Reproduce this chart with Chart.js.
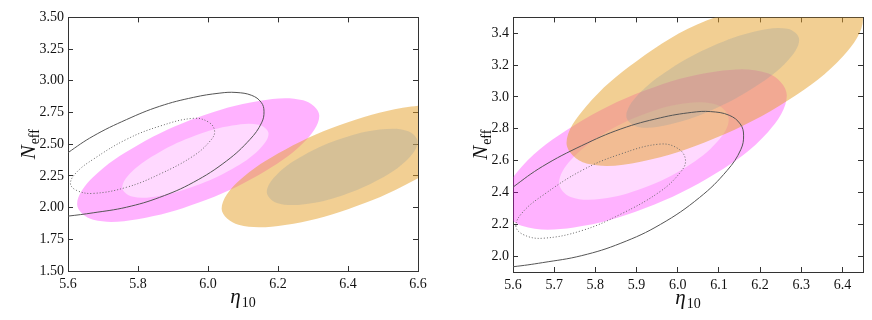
<!DOCTYPE html>
<html>
<head>
<meta charset="utf-8">
<script src="https://cdn.jsdelivr.net/npm/chart.js@4.4.1/dist/chart.umd.min.js"></script>
<style>
  html, body { margin: 0; padding: 0; background: #fff; }
  #wrap { position: relative; width: 872px; height: 320px; }
  #left { position: absolute; left: 0; top: 0; }
  #right { position: absolute; left: 440px; top: 0; }
</style>
</head>
<body>
<div id="wrap">
  <canvas id="left" width="440" height="320"></canvas>
  <canvas id="right" width="432" height="320"></canvas>
</div>
<script>
// --- ticks ---
const leftXTicks = [5.6, 5.8, 6.0, 6.2, 6.4, 6.6];
const leftXLabels = ['5.6', '5.8', '6.0', '6.2', '6.4', '6.6'];
const leftYTicks = [1.5, 1.75, 2.0, 2.25, 2.5, 2.75, 3.0, 3.25, 3.5];
const leftYLabels = ['1.50', '1.75', '2.00', '2.25', '2.50', '2.75', '3.00', '3.25', '3.50'];
const rightXTicks = [5.6, 5.7, 5.8, 5.9, 6.0, 6.1, 6.2, 6.3, 6.4];
const rightXLabels = ['5.6', '5.7', '5.8', '5.9', '6.0', '6.1', '6.2', '6.3', '6.4'];
const rightYTicks = [2.0, 2.2, 2.4, 2.6, 2.8, 3.0, 3.2, 3.4];
const rightYLabels = ['2.0', '2.2', '2.4', '2.6', '2.8', '3.0', '3.2', '3.4'];

// --- contours (eta10, Neff) ---
// black contours, same in both panels
const refSolid = [[5.49,2.15],[5.54,2.31],[5.60,2.433],[5.672,2.564],[5.767,2.694],[5.862,2.799],[5.958,2.869],[6.034,2.903],[6.08,2.908],[6.125,2.885],[6.152,2.83],[6.160,2.760],[6.153,2.668],[6.120,2.538],[6.053,2.368],[5.958,2.199],[5.862,2.081],[5.767,2.003],[5.672,1.959],[5.60,1.933],[5.55,1.922],[5.50,1.98]];
const refDotted = [[5.607,2.19],[5.625,2.135],[5.672,2.112],[5.767,2.160],[5.862,2.264],[5.958,2.407],[6.006,2.525],[6.019,2.60],[6.003,2.672],[5.958,2.704],[5.862,2.642],[5.767,2.538],[5.672,2.381],[5.624,2.277]];

// left panel
const leftPink2s = [[6.318,2.724],[6.272,2.846],[6.145,2.841],[5.972,2.712],[5.799,2.492],[5.672,2.241],[5.626,2.026],[5.672,1.904],[5.799,1.909],[5.972,2.038],[6.145,2.258],[6.272,2.509]];
const leftPink1s = [[6.173,2.582],[6.145,2.653],[6.069,2.647],[5.964,2.568],[5.860,2.435],[5.783,2.285],[5.755,2.158],[5.783,2.087],[5.860,2.092],[5.964,2.172],[6.069,2.305],[6.145,2.455]];
const leftGold2s = [[6.761,2.670],[6.713,2.796],[6.581,2.797],[6.400,2.673],[6.220,2.457],[6.087,2.207],[6.039,1.990],[6.087,1.864],[6.220,1.863],[6.400,1.987],[6.581,2.203],[6.713,2.453]];
const leftGold1s = [[6.599,2.519],[6.570,2.605],[6.491,2.615],[6.384,2.546],[6.276,2.417],[6.197,2.262],[6.168,2.123],[6.197,2.037],[6.276,2.027],[6.384,2.096],[6.491,2.225],[6.570,2.380]];

// right panel
const rightPink2s = [[6.265,3.010],[6.219,3.149],[6.093,3.160],[5.920,3.040],[5.748,2.820],[5.621,2.561],[5.575,2.330],[5.621,2.191],[5.748,2.180],[5.920,2.300],[6.093,2.520],[6.219,2.779]];
const rightPink1s = [[6.124,2.860],[6.096,2.949],[6.021,2.960],[5.918,2.891],[5.815,2.760],[5.740,2.602],[5.712,2.460],[5.740,2.372],[5.815,2.360],[5.918,2.430],[6.021,2.560],[6.096,2.718]];
const rightGold2s = [[6.450,3.490],[6.402,3.618],[6.270,3.607],[6.070,3.480],[5.900,3.225],[5.778,2.942],[5.730,2.710],[5.778,2.582],[5.910,2.593],[6.090,2.740],[6.270,2.983],[6.402,3.258]];
const rightGold1s = [[6.295,3.360],[6.267,3.428],[6.190,3.413],[6.085,3.320],[5.980,3.173],[5.903,3.012],[5.875,2.880],[5.903,2.812],[5.980,2.827],[6.085,2.920],[6.190,3.067],[6.267,3.228]];

const serif = '"Liberation Serif", "DejaVu Serif", serif';
const axisColor = '#333';

const toXY = pts => pts.map(([x, y]) => ({ x, y }));

function area(pts, color, order) {
    return { data: toXY(pts), showLine: true, fill: 'shape', backgroundColor: color,
             borderWidth: 0, pointRadius: 0, tension: 0.37, order: order };
}
function contour(pts, dash) {
    return { data: toXY(pts), showLine: true, fill: false, borderColor: dash ? '#666' : '#555',
             borderWidth: 1, borderDash: dash ? [1, 2] : [], pointRadius: 0, tension: 0.4, order: 0 };
}

// every dataset is a closed contour: let the line wrap round like a radar line
const closedLines = {
    id: 'closedLines',
    afterDatasetUpdate(chart, args) {
        const line = args.meta.dataset;
        if (line) { line._loop = true; line._fullLoop = true; }
    }
};

function scales(xr, xTicks, xLabels, yr, yTicks, yLabels, yWidth, xHeight) {
    const frame = { border: { display: true, color: axisColor, width: 1 },
                    grid: { drawOnChartArea: false, tickLength: -5, color: axisColor, lineWidth: 1 } };
    const tickFont = { family: serif, size: 14 };
    return {
        x: { type: 'linear', position: 'bottom', min: xr[0], max: xr[1], ...frame,
             afterBuildTicks: s => { s.ticks = xTicks.map(v => ({ value: v })); },
             afterFit: s => { s.height = xHeight; },
             ticks: { callback: (v, i) => xLabels[i], font: tickFont, color: '#111', padding: 10, maxRotation: 0, autoSkip: false } },
        x2: { type: 'linear', position: 'top', min: xr[0], max: xr[1], ...frame,
              afterBuildTicks: s => { s.ticks = xTicks.map(v => ({ value: v })); },
              afterFit: s => { s.height = 0; },
              ticks: { display: false } },
        y: { type: 'linear', position: 'left', min: yr[0], max: yr[1], ...frame,
             afterBuildTicks: s => { s.ticks = yTicks.map(v => ({ value: v })); },
             afterFit: s => { s.width = yWidth; },
             ticks: { callback: (v, i) => yLabels[i], font: tickFont, color: '#111', padding: 9, autoSkip: false } },
        y2: { type: 'linear', position: 'right', min: yr[0], max: yr[1], ...frame,
              afterBuildTicks: s => { s.ticks = yTicks.map(v => ({ value: v })); },
              afterFit: s => { s.width = 0; },
              ticks: { display: false } }
    };
}

// subscripted axis titles (eta_10, N_eff)
function drawSub(ctx, main, sub, cx, baseline) {
    ctx.font = 'italic 21px ' + serif;
    const w1 = ctx.measureText(main).width;
    ctx.font = '14px ' + serif;
    const w2 = ctx.measureText(sub).width;
    const x0 = cx - (w1 + w2 + 1) / 2;
    ctx.textAlign = 'left';
    ctx.textBaseline = 'alphabetic';
    ctx.font = 'italic 21px ' + serif;
    ctx.fillText(main, x0, baseline);
    ctx.font = '14px ' + serif;
    ctx.fillText(sub, x0 + w1 + 1, baseline + 4);
}
const axisTitles = {
    id: 'axisTitles',
    afterDraw(chart, args, opts) {
        const { ctx, chartArea: a } = chart;
        ctx.save();
        ctx.fillStyle = '#111';
        drawSub(ctx, 'η', '10', (a.left + a.right) / 2, a.bottom + 32);
        ctx.translate(a.left - opts.yGap, (a.top + a.bottom) / 2);
        ctx.rotate(-Math.PI / 2);
        drawSub(ctx, 'N', 'eff', 0, 0);
        ctx.restore();
    }
};

function makePanel(id, sets, sc, pad, yGap) {
    return new Chart(document.getElementById(id), {
        type: 'scatter',
        data: { datasets: sets },
        options: {
            responsive: false,
            animation: false,
            layout: { padding: pad },
            elements: { line: { capBezierPoints: false } },
            scales: sc,
            plugins: { legend: { display: false }, tooltip: { enabled: false }, axisTitles: { yGap: yGap } }
        },
        plugins: [closedLines, axisTitles]
    });
}

const pink = 'rgba(255,0,255,0.3)';
const pinkInner = 'rgba(255,255,255,0.5)';
const gold = 'rgba(230,160,40,0.5)';
const goldInner = 'rgba(150,160,160,0.3)';

makePanel('left', [
    contour(refSolid, false),
    contour(refDotted, true),
    area(leftGold1s, goldInner, 1),
    area(leftGold2s, gold, 2),
    area(leftPink1s, pinkInner, 3),
    area(leftPink2s, pink, 4)
], scales([5.6, 6.6], leftXTicks, leftXLabels, [1.5, 3.5], leftYTicks, leftYLabels, 68, 49),
   { left: 0, right: 22, top: 15, bottom: 0 }, 33);

makePanel('right', [
    contour(refSolid, false),
    contour(refDotted, true),
    area(rightGold1s, goldInner, 1),
    area(rightGold2s, gold, 2),
    area(rightPink1s, pinkInner, 3),
    area(rightPink2s, pink, 4)
], scales([5.6, 6.45], rightXTicks, rightXLabels, [1.9, 3.5], rightYTicks, rightYLabels, 73, 48),
   { left: 0, right: 9, top: 16, bottom: 0 }, 26);
</script>
</body>
</html>
